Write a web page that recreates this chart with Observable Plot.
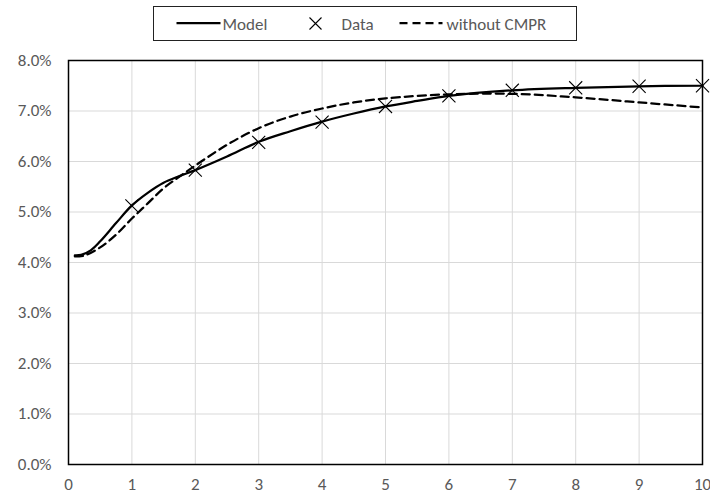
<!DOCTYPE html>
<html>
<head>
<meta charset="utf-8">
<script src="https://cdn.jsdelivr.net/npm/d3@7"></script>
<script src="https://cdn.jsdelivr.net/npm/@observablehq/plot@0.6"></script>
<style>
  body { margin: 0; background: #fff; font-family: Carlito, Calibri, Lato, sans-serif; }
  #wrap { position: relative; width: 710px; height: 495px; }
  #legend { position: absolute; left: 153px; top: 6px; width: 424px; height: 35px; border: 1.5px solid #222; box-sizing: border-box; }
  .lg { position: absolute; font-size: 17px; color: #595959; top: 8px; line-height: 20px; white-space: nowrap; }
  #legend svg { position: absolute; left: 0; top: 0; }
  #chart { position: absolute; left: 0; top: 45px; }
</style>
</head>
<body>
<div id="wrap">
  <div id="legend"></div>
  <div id="chart"></div>
</div>
<script>
// Model curve (x in years, y in %)
const modelX = [0.1, 0.2, 0.35, 0.5, 0.75, 1, 1.25, 1.5, 1.75, 2, 2.5, 3, 3.5, 4, 4.5, 5, 5.5, 6, 7, 8, 9, 10];
const modelY = [4.14, 4.15, 4.24, 4.42, 4.78, 5.13, 5.38, 5.58, 5.71, 5.83, 6.1, 6.39, 6.6, 6.79, 6.95, 7.09, 7.2, 7.3, 7.41, 7.46, 7.49, 7.5];
// Data markers
const dataX = [1, 2, 3, 4, 5, 6, 7, 8, 9, 10];
const dataY = [5.12, 5.83, 6.38, 6.78, 7.09, 7.3, 7.41, 7.46, 7.49, 7.5];
// without CMPR curve
const noCmprX = [0.1, 0.25, 0.5, 0.75, 1, 1.25, 1.5, 1.75, 2, 2.5, 3, 3.5, 4, 4.5, 5, 6, 7, 8, 9, 10];
const noCmprY = [4.12, 4.14, 4.3, 4.55, 4.87, 5.17, 5.47, 5.7, 5.92, 6.33, 6.66, 6.89, 7.05, 7.17, 7.25, 7.33, 7.34, 7.27, 7.17, 7.07];
// Ticks
const xTicks = [0, 1, 2, 3, 4, 5, 6, 7, 8, 9, 10];
const yTicks = [0, 1, 2, 3, 4, 5, 6, 7, 8];
const legendLabels = ["Model", "Data", "without CMPR"];

const model = modelX.map((x, i) => ({x, y: modelY[i]}));
const data = dataX.map((x, i) => ({x, y: dataY[i]}));
const noCmpr = noCmprX.map((x, i) => ({x, y: noCmprY[i]}));
const fmt = d => d.toFixed(1) + "%";

const chart = Plot.plot({
  width: 710,
  height: 450,
  marginTop: 15,
  marginBottom: 31,
  marginLeft: 68,
  marginRight: 8,
  style: { fontFamily: "Carlito, Calibri, Lato, sans-serif", fontSize: "17px", color: "#595959", background: "#fff" },
  x: { domain: [0, 10], label: null },
  y: { domain: [0, 8], label: null },
  marks: [
    Plot.gridX(xTicks, { stroke: "#d9d9d9", strokeOpacity: 1, strokeWidth: 1 }),
    Plot.gridY(yTicks, { stroke: "#d9d9d9", strokeOpacity: 1, strokeWidth: 1 }),
    Plot.axisX(xTicks, { tickSize: 0, tickPadding: 13, fill: "#595959", label: null }),
    Plot.axisY(yTicks, { tickSize: 0, tickPadding: 17, tickFormat: fmt, fill: "#595959", label: null }),
    Plot.line(noCmpr, { x: "x", y: "y", curve: "catmull-rom", stroke: "black", strokeWidth: 2.25, strokeDasharray: "8,5" }),
    Plot.line(model, { x: "x", y: "y", curve: "catmull-rom", stroke: "black", strokeWidth: 2.25 }),
    Plot.dot(data, { x: "x", y: "y", symbol: "times", r: 6, stroke: "black", strokeWidth: 1.1 }),
    Plot.frame({ stroke: "black", strokeWidth: 1.5 })
  ]
});
document.getElementById("chart").appendChild(chart);

// Legend
const lg = document.getElementById("legend");
const ox = 154.5, oy = 7.5;
const svgNS = "http://www.w3.org/2000/svg";
const s = document.createElementNS(svgNS, "svg");
s.setAttribute("width", 421); s.setAttribute("height", 32);
s.innerHTML =
  `<line x1="${177-ox}" x2="${221-ox}" y1="${23.5-oy}" y2="${23.5-oy}" stroke="black" stroke-width="2.25"/>` +
  `<path d="M${310-ox},${18-oy}L${322-ox},${30-oy}M${322-ox},${18-oy}L${310-ox},${30-oy}" stroke="black" stroke-width="1.1"/>` +
  `<line x1="${400-ox}" x2="${443-ox}" y1="${23.5-oy}" y2="${23.5-oy}" stroke="black" stroke-width="2.25" stroke-dasharray="8,5"/>`;
lg.appendChild(s);
const pos = [223, 342, 447];
legendLabels.forEach((t, i) => {
  const sp = document.createElement("span");
  sp.className = "lg";
  sp.textContent = t;
  sp.style.left = (pos[i] - ox) + "px";
  lg.appendChild(sp);
});
</script>
</body>
</html>
